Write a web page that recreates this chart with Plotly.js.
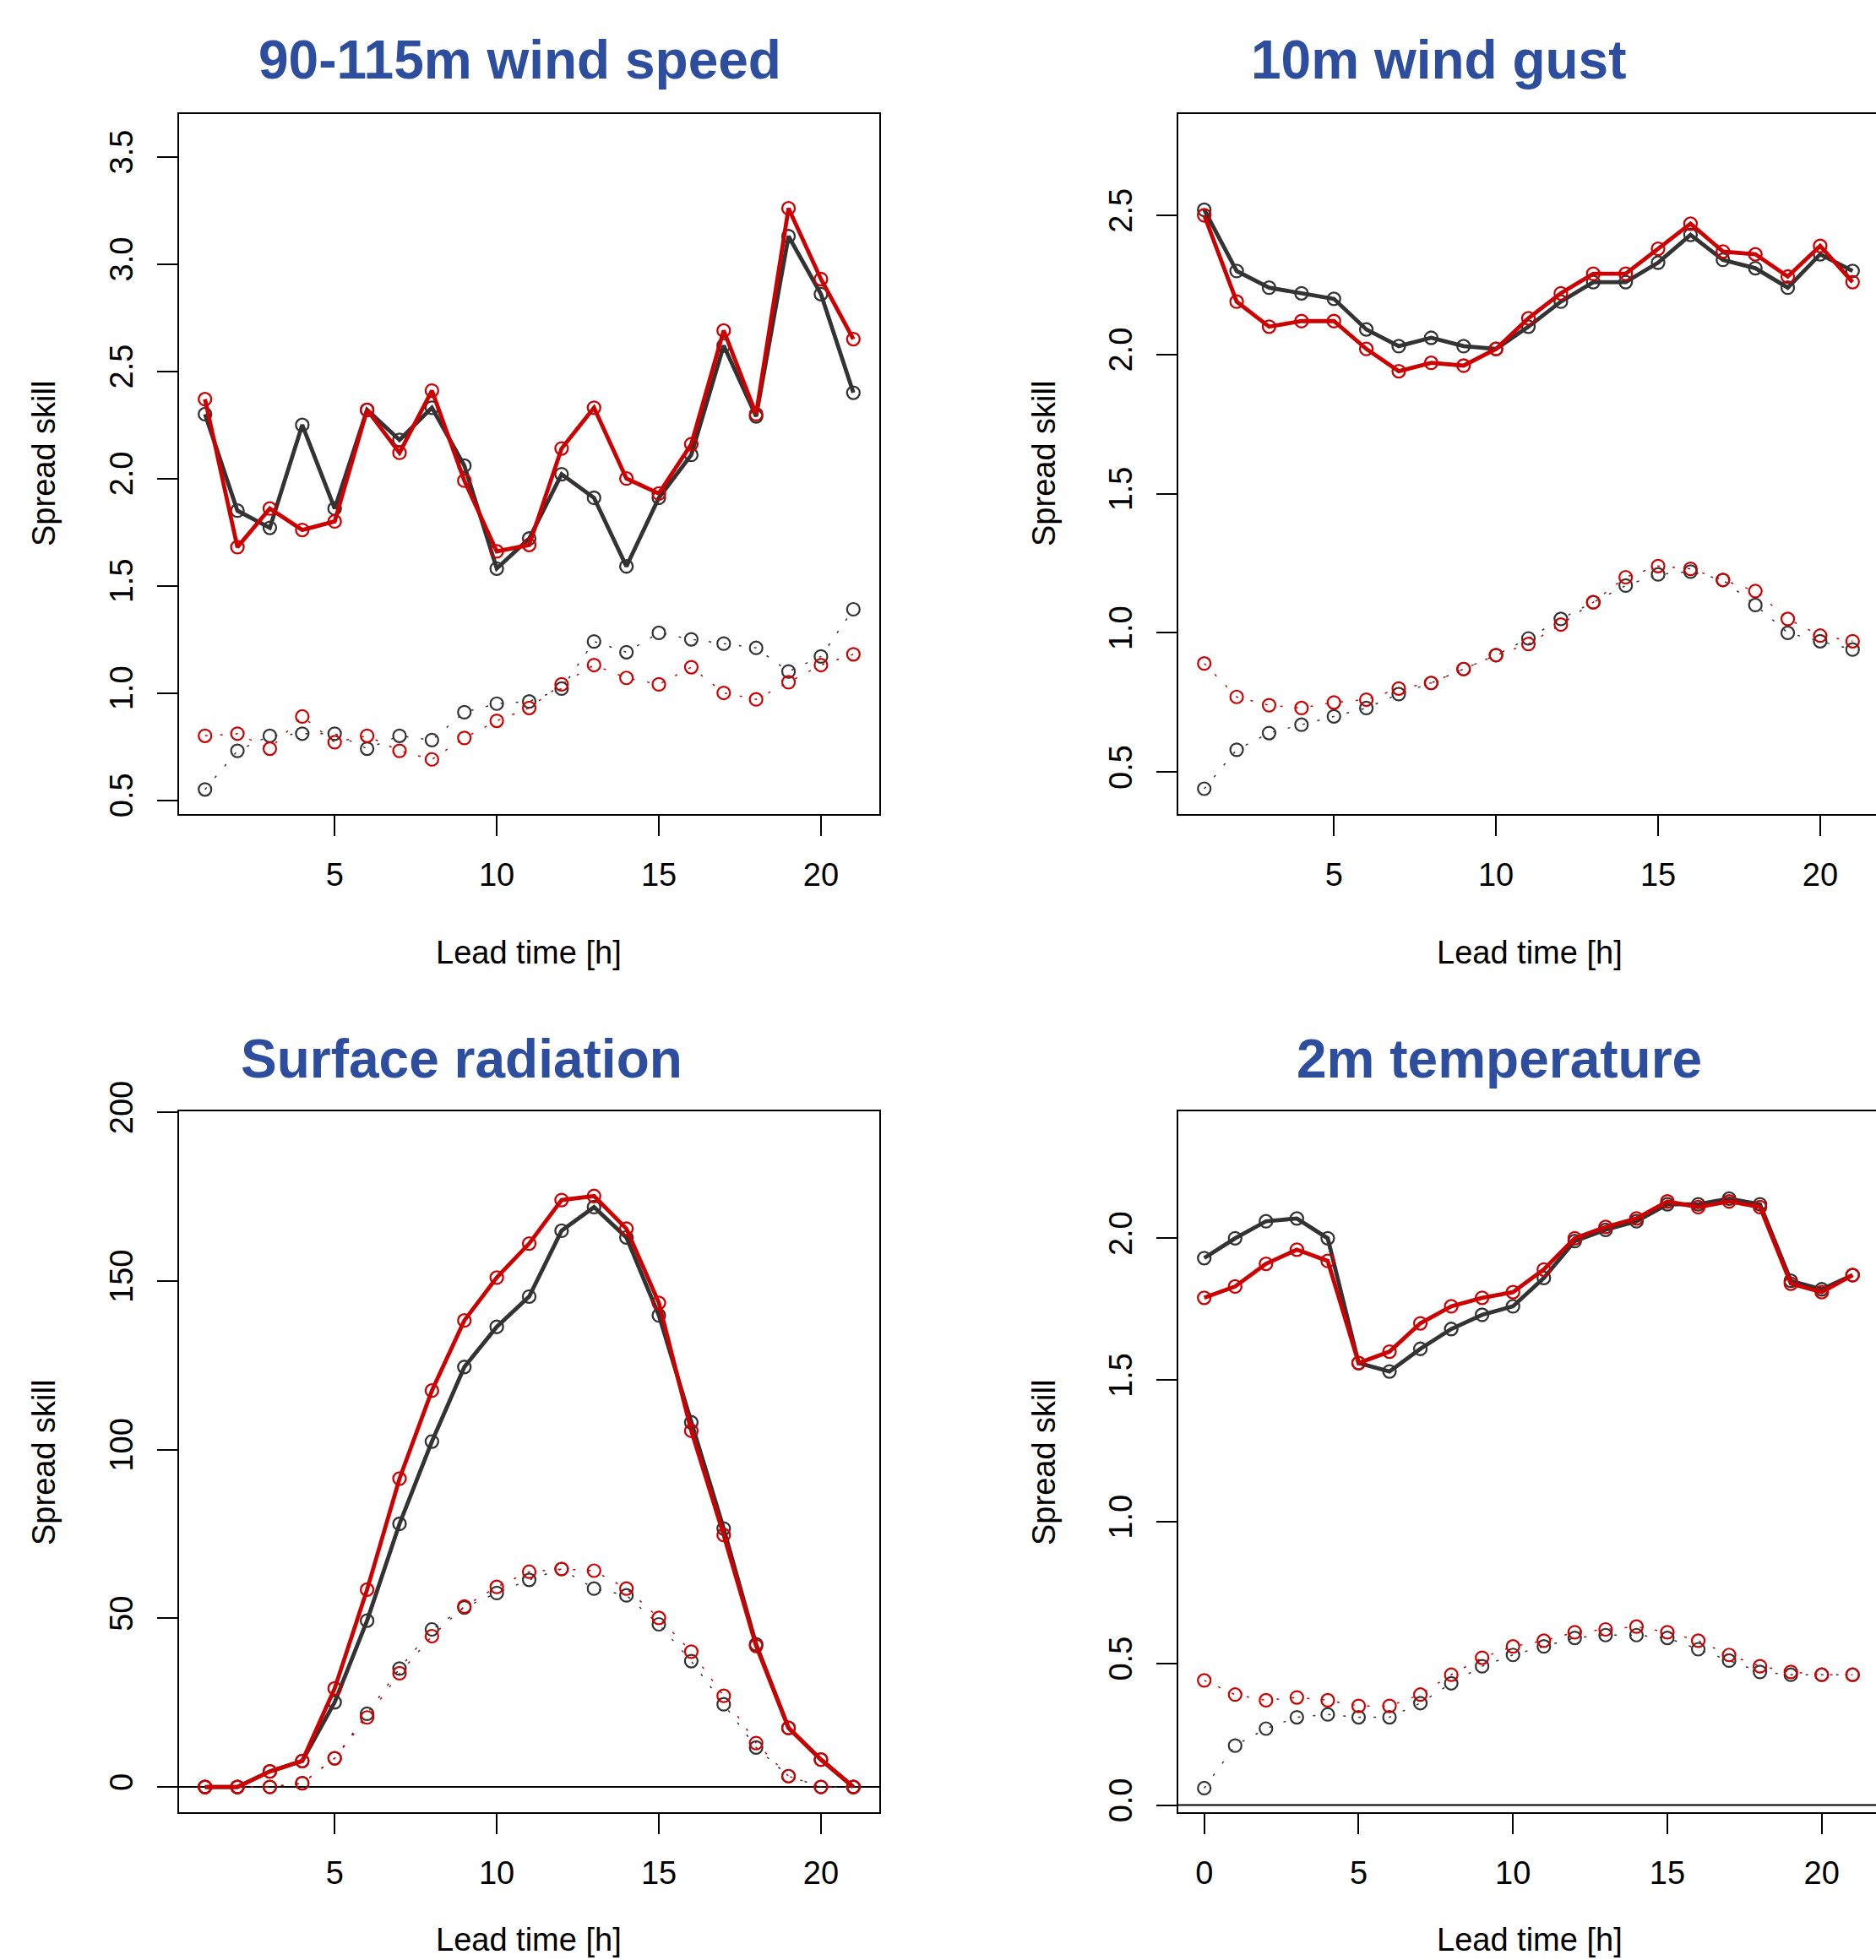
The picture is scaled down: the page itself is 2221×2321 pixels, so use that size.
<!DOCTYPE html>
<html>
<head>
<meta charset="utf-8">
<script src="https://cdn.plot.ly/plotly-3.0.1.min.js"></script>
<style>
html, body { margin: 0; padding: 0; background: #fff; overflow: hidden; }
#wrap { width: 2221px; height: 2321px; overflow: hidden; }
#chart { width: 2232px; height: 2321px; }
</style>
</head>
<body>
<div id="wrap"><div id="chart"></div></div>
<script>
// ---------- data ----------
const leadTime = [1,2,3,4,5,6,7,8,9,10,11,12,13,14,15,16,17,18,19,20,21];
const leadTime2m = [0,1,2,3,4,5,6,7,8,9,10,11,12,13,14,15,16,17,18,19,20,21];

const panelTitles = ["90-115m wind speed", "10m wind gust", "Surface radiation", "2m temperature"];
const xLabel = "Lead time [h]";
const yLabel = "Spread skill";

// 90-115m wind speed
const wsBlackSolid = [2.30,1.85,1.77,2.25,1.86,2.32,2.18,2.33,2.06,1.58,1.72,2.02,1.91,1.59,1.91,2.11,2.62,2.29,3.13,2.86,2.40];
const wsRedSolid   = [2.37,1.68,1.86,1.76,1.80,2.32,2.12,2.41,1.99,1.66,1.69,2.14,2.33,2.00,1.93,2.16,2.69,2.30,3.26,2.93,2.65];
const wsBlackDot   = [0.55,0.73,0.80,0.81,0.81,0.74,0.80,0.78,0.91,0.95,0.96,1.02,1.24,1.19,1.28,1.25,1.23,1.21,1.10,1.17,1.39];
const wsRedDot     = [0.80,0.81,0.74,0.89,0.77,0.80,0.73,0.69,0.79,0.87,0.93,1.04,1.13,1.07,1.04,1.12,1.00,0.97,1.05,1.13,1.18];

// 10m wind gust
const wgBlackSolid = [2.52,2.30,2.24,2.22,2.20,2.09,2.03,2.06,2.03,2.02,2.10,2.19,2.26,2.26,2.33,2.43,2.34,2.31,2.24,2.36,2.30];
const wgRedSolid   = [2.50,2.19,2.10,2.12,2.12,2.02,1.94,1.97,1.96,2.02,2.13,2.22,2.29,2.29,2.38,2.47,2.37,2.36,2.28,2.39,2.26];
const wgBlackDot   = [0.44,0.58,0.64,0.67,0.70,0.73,0.78,0.82,0.87,0.92,0.98,1.05,1.11,1.17,1.21,1.22,1.19,1.10,1.00,0.97,0.94];
const wgRedDot     = [0.89,0.77,0.74,0.73,0.75,0.76,0.80,0.82,0.87,0.92,0.96,1.03,1.11,1.20,1.24,1.23,1.19,1.15,1.05,0.99,0.97];

// Surface radiation
const srBlackSolid = [0,0,4.6,7.7,25.1,49.3,78.0,102.4,124.5,136.4,145.4,164.9,171.9,162.9,139.8,108.1,76.6,42.3,17.5,8.1,0];
const srRedSolid   = [0,0,4.6,7.7,29.2,58.5,91.4,117.5,138.3,151.0,161.1,174.0,175.2,165.5,143.5,105.6,74.7,41.8,17.5,8.1,0];
const srBlackDot   = [0,0,0,1.1,8.5,21.7,35.1,46.7,53.2,57.5,61.4,64.6,58.8,56.8,48.2,37.3,24.5,11.7,3.2,0,0];
const srRedDot     = [0,0,0,1.1,8.5,20.6,33.7,44.7,53.5,59.3,63.8,64.6,64.1,58.8,50.1,40.1,27.0,13.0,3.2,0,0];

// 2m temperature
const t2BlackSolid = [1.93,2.00,2.06,2.07,2.00,1.56,1.53,1.61,1.68,1.73,1.76,1.86,1.99,2.03,2.06,2.12,2.12,2.14,2.12,1.85,1.82,1.87];
const t2RedSolid   = [1.79,1.83,1.91,1.96,1.92,1.56,1.60,1.70,1.76,1.79,1.81,1.89,2.00,2.04,2.07,2.13,2.11,2.13,2.11,1.84,1.81,1.87];
const t2BlackDot   = [0.06,0.21,0.27,0.31,0.32,0.31,0.31,0.36,0.43,0.49,0.53,0.56,0.59,0.60,0.60,0.59,0.55,0.51,0.47,0.46,0.46,0.46];
const t2RedDot     = [0.44,0.39,0.37,0.38,0.37,0.35,0.35,0.39,0.46,0.52,0.56,0.58,0.61,0.62,0.63,0.61,0.58,0.53,0.49,0.47,0.46,0.46];

// ---------- styling ----------
const W = 2232, H = 2321;
const BLACK = "#333333", RED = "#CC0000", BLUE = "#2D4D9E";
const FONT = "Liberation Sans, Arial, Helvetica, sans-serif";

function solid(x, y, color, xa, ya, name) {
  return { x: x, y: y, xaxis: xa, yaxis: ya, name: name, type: "scatter", mode: "lines+markers",
    line: { color: color, width: 4.8 },
    marker: { symbol: "circle-open", size: 15, color: color, line: { color: color, width: 2.3 } },
    showlegend: false, hoverinfo: "x+y" };
}
function dotted(x, y, color, xa, ya, name) {
  return { x: x, y: y, xaxis: xa, yaxis: ya, name: name, type: "scatter", mode: "lines+markers",
    line: { color: color, width: 1.5, dash: "3px,15px" },
    marker: { symbol: "circle-open", size: 15, color: color, line: { color: color, width: 2.2 } },
    showlegend: false, hoverinfo: "x+y" };
}

const data = [
  solid(leadTime, wsBlackSolid, BLACK, "x", "y", "wind speed black solid"),
  dotted(leadTime, wsBlackDot, BLACK, "x", "y", "wind speed black dotted"),
  solid(leadTime, wsRedSolid, RED, "x", "y", "wind speed red solid"),
  dotted(leadTime, wsRedDot, RED, "x", "y", "wind speed red dotted"),

  solid(leadTime, wgBlackSolid, BLACK, "x2", "y2", "wind gust black solid"),
  dotted(leadTime, wgBlackDot, BLACK, "x2", "y2", "wind gust black dotted"),
  solid(leadTime, wgRedSolid, RED, "x2", "y2", "wind gust red solid"),
  dotted(leadTime, wgRedDot, RED, "x2", "y2", "wind gust red dotted"),

  solid(leadTime, srBlackSolid, BLACK, "x3", "y3", "radiation black solid"),
  dotted(leadTime, srBlackDot, BLACK, "x3", "y3", "radiation black dotted"),
  solid(leadTime, srRedSolid, RED, "x3", "y3", "radiation red solid"),
  dotted(leadTime, srRedDot, RED, "x3", "y3", "radiation red dotted"),

  solid(leadTime2m, t2BlackSolid, BLACK, "x4", "y4", "2m temperature black solid"),
  dotted(leadTime2m, t2BlackDot, BLACK, "x4", "y4", "2m temperature black dotted"),
  solid(leadTime2m, t2RedSolid, RED, "x4", "y4", "2m temperature red solid"),
  dotted(leadTime2m, t2RedDot, RED, "x4", "y4", "2m temperature red dotted")
];

// pixel boxes -> paper domains
const colL = [212, 1041], colR = [1395, 2224];
const rowT = [135, 964], rowB = [1316, 2146];
const xd = p => [p[0] / W, p[1] / W];
const yd = p => [(H - p[1]) / H, (H - p[0]) / H];

function xaxis(dom, range, tickvals, anchor) {
  return { domain: xd(dom), range: range, anchor: anchor, tickvals: tickvals,
    showline: true, mirror: true, linecolor: "#000", linewidth: 2,
    ticks: "outside", ticklen: 24, tickwidth: 2, tickcolor: "#000",
    ticklabelstandoff: 13,
    showgrid: false, zeroline: false,
    tickfont: { family: FONT, size: 38, color: "#000" } };
}
function yaxis(dom, range, tickvals, anchor, fmt) {
  return { domain: yd(dom), range: range, anchor: anchor, tickvals: tickvals,
    tickformat: fmt, tickangle: -90,
    showline: true, mirror: true, linecolor: "#000", linewidth: 2,
    ticks: "outside", ticklen: 24, tickwidth: 2, tickcolor: "#000",
    ticklabelstandoff: 14,
    showgrid: false, zeroline: false,
    tickfont: { family: FONT, size: 38, color: "#000" } };
}

function ann(text, px, py, opts) {
  return Object.assign({ text: text, xref: "paper", yref: "paper",
    x: px / W, y: (H - py) / H, xanchor: "center", yanchor: "middle",
    showarrow: false, font: { family: FONT, size: 38, color: "#000" } }, opts || {});
}
const titleFont = { family: FONT, size: 64, color: BLUE, weight: "bold" };

const layout = {
  width: W, height: H,
  margin: { l: 0, r: 0, t: 0, b: 0 },
  paper_bgcolor: "#fff", plot_bgcolor: "#fff",
  showlegend: false,
  xaxis:  xaxis(colL, [0.2, 21.8], [5,10,15,20], "y"),
  yaxis:  yaxis(rowT, [0.435, 3.70], [0.5,1.0,1.5,2.0,2.5,3.0,3.5], "x", ".1f"),
  xaxis2: xaxis(colR, [0.2, 21.8], [5,10,15,20], "y2"),
  yaxis2: yaxis(rowT, [0.349, 2.864], [0.5,1.0,1.5,2.0,2.5], "x2", ".1f"),
  xaxis3: xaxis(colL, [0.2, 21.8], [5,10,15,20], "y3"),
  yaxis3: yaxis(rowB, [-7.5, 200.3], [0,50,100,150,200], "x3", "d"),
  xaxis4: xaxis(colR, [-0.84, 21.84], [0,5,10,15,20], "y4"),
  yaxis4: yaxis(rowB, [-0.025, 2.448], [0.0,0.5,1.0,1.5,2.0], "x4", ".1f"),
  shapes: [
    { type: "line", xref: "x3 domain", yref: "y3", x0: 0, x1: 1, y0: 0, y1: 0, line: { color: "#000", width: 2 }, layer: "below" },
    { type: "line", xref: "x4 domain", yref: "y4", x0: 0, x1: 1, y0: 0, y1: 0, line: { color: "#000", width: 2 }, layer: "below" }
  ],
  annotations: [
    ann(panelTitles[0], 615, 71, { font: titleFont }),
    ann(panelTitles[1], 1703, 71, { font: titleFont }),
    ann(panelTitles[2], 546, 1254, { font: titleFont }),
    ann(panelTitles[3], 1775, 1254, { font: titleFont }),
    ann(yLabel, 52, 549, { textangle: -90 }),
    ann(yLabel, 1236, 549, { textangle: -90 }),
    ann(yLabel, 52, 1732, { textangle: -90 }),
    ann(yLabel, 1236, 1732, { textangle: -90 }),
    ann(xLabel, 626, 1128),
    ann(xLabel, 1811, 1128),
    ann(xLabel, 626, 2297),
    ann(xLabel, 1811, 2297)
  ]
};

Plotly.newPlot("chart", data, layout, { staticPlot: true, displayModeBar: false });
</script>
</body>
</html>
